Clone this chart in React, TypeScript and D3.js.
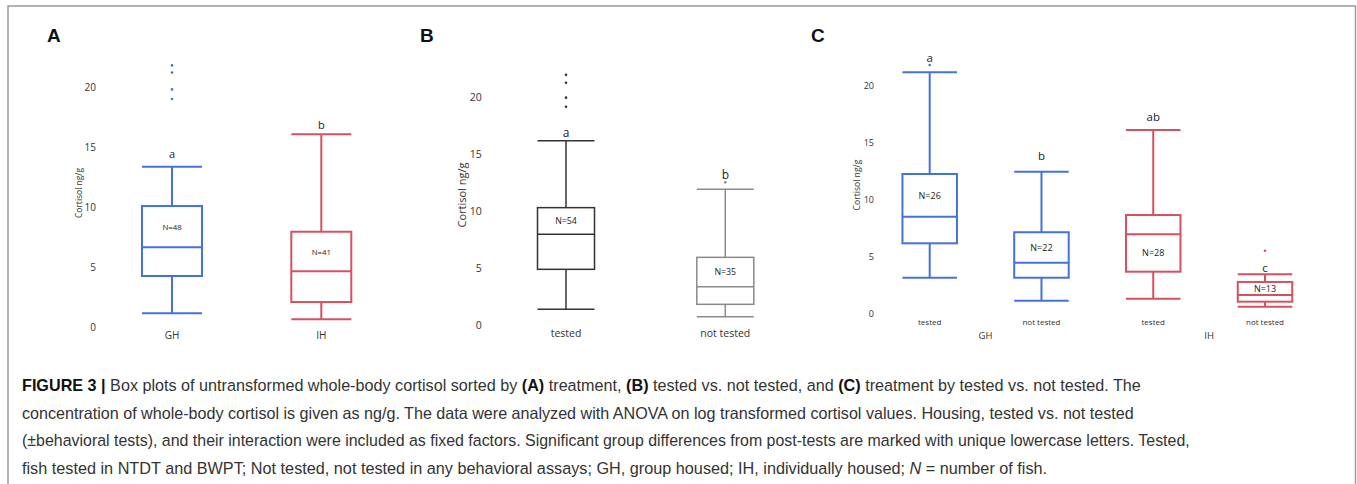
import React, { useEffect, useRef } from 'react';
import * as d3 from 'd3';

// box stats: [low whisker, Q1, median, Q3, high whisker]
const catsA = ['GH', 'IH'];
const statsA = [
  [1.14, 4.25, 6.64, 10.08, 13.36],
  [0.64, 2.08, 4.64, 7.94, 16.06],
];
const outliersA = [[19.0, 19.8, 21.2, 21.8], []];
const countsA = [48, 41];
const lettersA = ['a', 'b'];
const letterAtA = [14.5, 16.9];

const catsB = ['tested', 'not tested'];
const statsB = [
  [1.33, 4.84, 7.91, 10.25, 16.12],
  [0.68, 1.77, 3.32, 5.89, 11.86],
];
const outliersB = [[19.1, 19.9, 21.2, 21.9], [12.47]];
const countsB = [54, 35];
const lettersB = ['a', 'b'];
const letterAtB = [16.8, 13.2];

const catsC = ['GH tested', 'GH not tested', 'IH tested', 'IH not tested'];
const tickNamesC = ['tested', 'not tested', 'tested', 'not tested'];
const groupsC = ['GH', 'IH'];
const statsC = [
  [3.12, 6.14, 8.47, 12.22, 21.14],
  [1.11, 3.12, 4.44, 7.11, 12.42],
  [1.28, 3.65, 6.93, 8.62, 16.08],
  [0.58, 1.02, 1.61, 2.75, 3.42],
];
const outliersC = [[21.78], [], [], [5.49]];
const countsC = [26, 22, 28, 13];
const lettersC = ['a', 'b', 'ab', 'c'];
const letterAtC = [22.4, 13.8, 17.3, 4.0];
const countInLowerC = [false, false, true, false];

const yTicks = [0, 5, 10, 15, 20];

const BLUE = '#4472dc';
const RED = '#d6505f';

const W = 1357;
const H = 484;
const FONT = "'Open Sans', sans-serif";

const caption = [
  [
    { t: 'FIGURE 3 |', b: true },
    { t: ' Box plots of untransformed whole-body cortisol sorted by ' },
    { t: '(A)', b: true },
    { t: ' treatment, ' },
    { t: '(B)', b: true },
    { t: ' tested vs. not tested, and ' },
    { t: '(C)', b: true },
    { t: ' treatment by tested vs. not tested. The' },
  ],
  [{ t: 'concentration of whole-body cortisol is given as ng/g. The data were analyzed with ANOVA on log transformed cortisol values. Housing, tested vs. not tested' }],
  [{ t: '(\u00b1behavioral tests), and their interaction were included as fixed factors. Significant group differences from post-tests are marked with unique lowercase letters. Tested,' }],
  [
    { t: 'fish tested in NTDT and BWPT; Not tested, not tested in any behavioral assays; GH, group housed; IH, individually housed; ' },
    { t: 'N', i: true },
    { t: ' = number of fish.' },
  ],
];
const captionWidths = [1120, 1113, 1168, 1026];

const App = () => {
  const ref = useRef<HTMLDivElement>(null);

  useEffect(() => {
    const svg = d3
      .create('svg')
      .attr('width', W)
      .attr('height', H)
      .style('display', 'block')
      .style('background', '#fff');

    ref.current.innerHTML = '';
    ref.current.appendChild(svg.node());

    // outer frame
    svg.append('path')
      .attr('d', `M8,${H}V6H1355.5V${H}`)
      .attr('fill', 'none')
      .attr('stroke', '#9a9a9a')
      .attr('stroke-width', 1.5);

    const panel = (opts) => {
      const {
        cats, stats, outliers, counts, letters, letterAt, colors,
        xRange, y0, y20, boxW, sw, tickX, tickSize, titleX, titleY, titleSize,
        nSize, letterSize, labelY, labelSize, labels, countLower,
      } = opts;
      const x = d3.scalePoint().domain(cats).range(xRange);
      const y = d3.scaleLinear().domain([0, 20]).range([y0, y20]);
      const g = svg.append('g');

      g.selectAll('text.tick')
        .data(yTicks)
        .enter()
        .append('text')
        .attr('x', tickX)
        .attr('y', (d) => y(d))
        .attr('text-anchor', 'end')
        .attr('dominant-baseline', 'central')
        .attr('font-family', FONT)
        .attr('font-size', tickSize)
        .attr('fill', '#333')
        .text((d) => d);

      g.append('text')
        .attr('transform', `translate(${titleX},${titleY}) rotate(-90)`)
        .attr('text-anchor', 'middle')
        .attr('dominant-baseline', 'central')
        .attr('font-family', FONT)
        .attr('font-size', titleSize)
        .attr('fill', '#333')
        .text('Cortisol ng/g');

      cats.forEach((c, i) => {
        const [lo, q1, md, q3, hi] = stats[i];
        const cx = x(c);
        const col = colors[i];
        const bg = g.append('g')
          .attr('stroke', col)
          .attr('stroke-width', sw)
          .attr('fill', 'none');
        // whiskers
        bg.append('line').attr('x1', cx).attr('x2', cx).attr('y1', y(hi)).attr('y2', y(q3));
        bg.append('line').attr('x1', cx).attr('x2', cx).attr('y1', y(q1)).attr('y2', y(lo));
        bg.append('line').attr('x1', cx - boxW / 2).attr('x2', cx + boxW / 2).attr('y1', y(hi)).attr('y2', y(hi));
        bg.append('line').attr('x1', cx - boxW / 2).attr('x2', cx + boxW / 2).attr('y1', y(lo)).attr('y2', y(lo));
        // box + median
        bg.append('rect')
          .attr('x', cx - boxW / 2)
          .attr('y', y(q3))
          .attr('width', boxW)
          .attr('height', y(q1) - y(q3));
        bg.append('line').attr('x1', cx - boxW / 2).attr('x2', cx + boxW / 2).attr('y1', y(md)).attr('y2', y(md));

        g.selectAll(null)
          .data(outliers[i])
          .enter()
          .append('circle')
          .attr('cx', cx)
          .attr('cy', (d) => y(d))
          .attr('r', 1.3)
          .attr('fill', col);

        const nVal = countLower && countLower[i] ? (q1 + md) / 2 : (md + q3) / 2;
        g.append('text')
          .attr('x', cx)
          .attr('y', y(nVal))
          .attr('text-anchor', 'middle')
          .attr('dominant-baseline', 'central')
          .attr('font-family', FONT)
          .attr('font-size', nSize)
          .attr('fill', '#222')
          .text(`N=${counts[i]}`);

        g.append('text')
          .attr('x', cx)
          .attr('y', y(letterAt[i]))
          .attr('text-anchor', 'middle')
          .attr('dominant-baseline', 'central')
          .attr('font-family', FONT)
          .attr('font-size', letterSize)
          .attr('fill', '#222')
          .text(letters[i]);

        g.append('text')
          .attr('x', cx)
          .attr('y', labelY)
          .attr('text-anchor', 'middle')
          .attr('dominant-baseline', 'central')
          .attr('font-family', FONT)
          .attr('font-size', labelSize)
          .attr('fill', '#333')
          .text(labels[i]);
      });
      return x;
    };

    const panelLabel = (txt, px) => {
      svg.append('text')
        .attr('x', px)
        .attr('y', 42)
        .attr('font-family', "'Liberation Sans', Arial, sans-serif")
        .attr('font-weight', 'bold')
        .attr('font-size', 19)
        .attr('fill', '#111')
        .text(txt);
    };

    panelLabel('A', 47);
    panel({
      cats: catsA, stats: statsA, outliers: outliersA, counts: countsA,
      letters: lettersA, letterAt: letterAtA, colors: [BLUE, RED],
      xRange: [172, 321.3], y0: 327, y20: 87, boxW: 60, sw: 2,
      tickX: 96, tickSize: 10, titleX: 78, titleY: 193, titleSize: 8.5,
      nSize: 7.8, letterSize: 11, labelY: 335, labelSize: 10, labels: catsA,
    });

    panelLabel('B', 420);
    panel({
      cats: catsB, stats: statsB, outliers: outliersB, counts: countsB,
      letters: lettersB, letterAt: letterAtB, colors: ['#333', '#8a8a8a'],
      xRange: [566, 725.3], y0: 324.5, y20: 96.5, boxW: 57, sw: 1.5,
      tickX: 481.7, tickSize: 10.5, titleX: 461.7, titleY: 195, titleSize: 11,
      nSize: 8.8, letterSize: 12, labelY: 333.3, labelSize: 10.5, labels: catsB,
    });

    panelLabel('C', 811);
    const xC = panel({
      cats: catsC, stats: statsC, outliers: outliersC, counts: countsC,
      letters: lettersC, letterAt: letterAtC, colors: [BLUE, BLUE, RED, RED],
      xRange: [929.7, 1265], y0: 313.3, y20: 85.3, boxW: 54.5, sw: 2,
      tickX: 874, tickSize: 9, titleX: 856.7, titleY: 185, titleSize: 8.6,
      nSize: 9, letterSize: 11.5, labelY: 321, labelSize: 8, labels: tickNamesC,
      countLower: countInLowerC,
    });

    // group labels under panel C
    groupsC.forEach((grp, k) => {
      const a = xC(catsC[k * 2]);
      const b = xC(catsC[k * 2 + 1]);
      svg.append('text')
        .attr('x', (a + b) / 2)
        .attr('y', 335)
        .attr('text-anchor', 'middle')
        .attr('dominant-baseline', 'central')
        .attr('font-family', FONT)
        .attr('font-size', 9.5)
        .attr('fill', '#333')
        .text(grp);
    });

    // caption: lay out naturally, then squeeze each line horizontally to its width
    caption.forEach((line, li) => {
      const t = svg.append('text')
        .attr('x', 0)
        .attr('y', 0)
        .attr('font-family', "'Liberation Sans', Arial, sans-serif")
        .attr('font-size', 16.5)
        .attr('fill', '#333');
      line.forEach((seg) => {
        t.append('tspan')
          .attr('font-weight', seg.b ? 'bold' : null)
          .attr('font-style', seg.i ? 'italic' : null)
          .attr('fill', seg.b ? '#111' : null)
          .text(seg.t);
      });
      const natural = t.node().getComputedTextLength() || captionWidths[li];
      const k = captionWidths[li] / natural;
      t.attr('transform', `translate(22,${391 + li * 27.7}) scale(${k},1)`);
    });
  }, []);

  return <div ref={ref} style={{ position: 'absolute', left: 0, top: 0 }}></div>;
};

export default App;
